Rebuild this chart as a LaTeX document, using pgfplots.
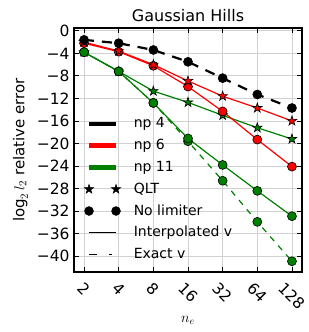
\documentclass[border=0pt]{standalone}
\usepackage{graphicx}
\usepackage{pgfplots}
\pgfplotsset{compat=1.18}
\usepackage{fontspec}
\setmainfont{DejaVu Sans}
\definecolor{mplgreen}{rgb}{0,0.5,0}
\definecolor{gridgray}{rgb}{0.82,0.82,0.82}
\pgfdeclareplotmark{fstar}{%
  \pgfpathmoveto{\pgfpointpolar{90}{\pgfplotmarksize}}%
  \pgfpathlineto{\pgfpointpolar{126}{0.382\pgfplotmarksize}}%
  \pgfpathlineto{\pgfpointpolar{162}{\pgfplotmarksize}}%
  \pgfpathlineto{\pgfpointpolar{198}{0.382\pgfplotmarksize}}%
  \pgfpathlineto{\pgfpointpolar{234}{\pgfplotmarksize}}%
  \pgfpathlineto{\pgfpointpolar{270}{0.382\pgfplotmarksize}}%
  \pgfpathlineto{\pgfpointpolar{306}{\pgfplotmarksize}}%
  \pgfpathlineto{\pgfpointpolar{342}{0.382\pgfplotmarksize}}%
  \pgfpathlineto{\pgfpointpolar{18}{\pgfplotmarksize}}%
  \pgfpathlineto{\pgfpointpolar{54}{0.382\pgfplotmarksize}}%
  \pgfpathclose
  \pgfusepathqfillstroke}
\pgfplotsset{
  lineleg/.style={legend image code/.code={\draw[##1] (0bp,0bp) -- (27bp,0bp);}},
  markleg/.style={legend image code/.code={\draw[##1, only marks] plot coordinates {(0bp,0bp) (27bp,0bp)};}},
}
\begin{document}
\begin{tikzpicture}
\useasboundingbox (-74bp,-60bp) rectangle (235bp,272bp);
\begin{axis}[
  at={(0,0)}, anchor=south west,
  scale only axis, width=228bp, height=244bp,
  xmin=0.71, xmax=7.29, ymin=-42.8, ymax=0.5,
  xtick={1,2,3,4,5,6,7},
  xticklabels={\rotatebox{-45}{2},\rotatebox{-45}{4},\rotatebox{-45}{8},\rotatebox{-45}{16},\rotatebox{-45}{32},\rotatebox{-45}{64},\rotatebox{-45}{128}},
  ytick={-40,-36,-32,-28,-24,-20,-16,-12,-8,-4,0},
  yticklabels={−40,−36,−32,−28,−24,−20,−16,−12,−8,−4,0},
  tick align=inside, tick pos=both,
  major tick length=5bp,
  every tick/.style={black, line width=0.8bp},
  grid=major,
  major grid style={gridgray, line width=0.8bp},
  axis line style={line width=1.2bp},
  ticklabel style={font=\fontsize{15.5bp}{18bp}\selectfont},
  xticklabel style={anchor=north, inner sep=0pt, yshift=-9bp},
  yticklabel style={xshift=-1bp},
  title={Gaussian Hills},
  title style={font=\fontsize{16bp}{19bp}\selectfont, yshift=-3bp},
  xlabel={$n_e$},
  xlabel style={font=\fontsize{14bp}{17bp}\selectfont, yshift=-2bp},
  ylabel={$\log_2 l_2$ relative error},
  ylabel style={font=\fontsize{15bp}{18bp}\selectfont, yshift=2bp},
  legend style={draw=none, fill=none, inner sep=0pt, outer sep=0pt,
    at={(0.045,0.652)}, anchor=north west,
    font=\fontsize{14bp}{17bp}\selectfont,
    nodes={inner sep=0pt, text height=15bp, text depth=6.8bp},
    row sep=0pt, column sep=13bp},
  legend cell align=left,
]
% data lines
\addplot[forget plot, mplgreen, line width=1.2bp, mark=fstar, mark size=5bp, mark options={fill=mplgreen, draw=black, line width=0.6bp}] coordinates {(1,-3.8) (2,-7.2) (3,-10.7) (4,-12.7) (5,-15.0) (6,-17.2) (7,-19.2)};
\addplot[forget plot, mplgreen, line width=1.2bp, dash pattern=on 6bp off 6bp, mark=*, mark size=4.5bp, mark options={solid, fill=mplgreen, draw=black, line width=0.6bp}] coordinates {(1,-3.8) (2,-7.2) (3,-12.8) (4,-19.6) (5,-26.6) (6,-33.9) (7,-40.9)};
\addplot[forget plot, mplgreen, line width=1.2bp, mark=*, mark size=4.5bp, mark options={fill=mplgreen, draw=black, line width=0.6bp}] coordinates {(1,-3.8) (2,-7.2) (3,-12.8) (4,-19.1) (5,-23.8) (6,-28.4) (7,-32.9)};
\addplot[forget plot, red, line width=1.2bp, mark=*, mark size=4.5bp, mark options={fill=red, draw=black, line width=0.6bp}] coordinates {(1,-2.2) (2,-3.7) (3,-6.2) (4,-9.9) (5,-14.3) (6,-19.3) (7,-24.1)};
\addplot[forget plot, red, line width=1.2bp, mark=fstar, mark size=5bp, mark options={fill=red, draw=black, line width=0.6bp}] coordinates {(1,-2.0) (2,-3.6) (3,-6.0) (4,-8.9) (5,-11.6) (6,-13.7) (7,-16.0)};
\addplot[forget plot, black, line width=2.2bp, dash pattern=on 10bp off 8bp, mark=*, mark size=4.5bp, mark options={solid, fill=black, draw=black, line width=0.6bp}] coordinates {(1,-1.6) (2,-2.2) (3,-3.4) (4,-5.5) (5,-8.4) (6,-11.3) (7,-13.7)};
% legend entries
\addlegendimage{black, line width=4.5bp, lineleg}
\addlegendentry{np 4}
\addlegendimage{red, line width=4.5bp, lineleg}
\addlegendentry{np 6}
\addlegendimage{mplgreen, line width=4.5bp, lineleg}
\addlegendentry{np 11}
\addlegendimage{black, fill=black, mark=fstar, mark size=5bp, markleg}
\addlegendentry{QLT}
\addlegendimage{black, fill=black, mark=*, mark size=4.5bp, markleg}
\addlegendentry{No limiter}
\addlegendimage{black, line width=0.8bp, lineleg}
\addlegendentry{Interpolated v}
\addlegendimage{black, line width=0.8bp, dash pattern=on 8bp off 12bp on 3bp off 4bp, lineleg}
\addlegendentry{Exact v}
\end{axis}
\end{tikzpicture}
\end{document}
